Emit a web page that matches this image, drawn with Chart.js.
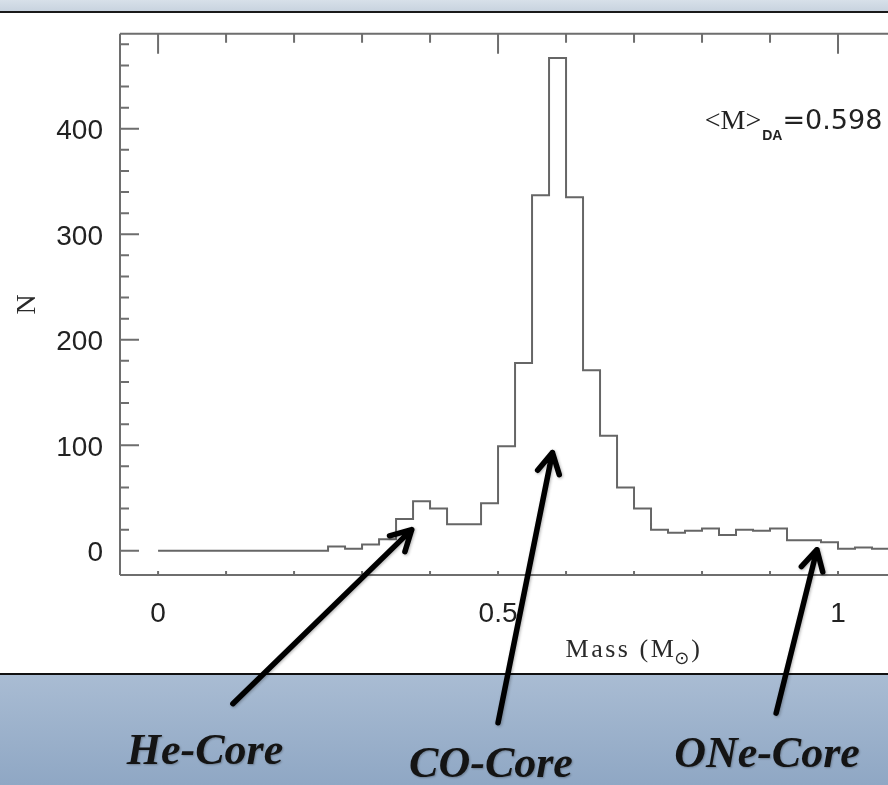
<!DOCTYPE html>
<html>
<head>
<meta charset="utf-8">
<script src="https://cdn.jsdelivr.net/npm/chart.js@4.4.1/dist/chart.umd.min.js"></script>
<style>
    html, body { margin: 0; padding: 0; }
    body { width: 888px; height: 785px; overflow: hidden; position: relative; background: #fff; }
    #bandaSup { position: absolute; left: 0; top: 0; width: 888px; height: 11px; background: linear-gradient(#d7e0e9, #c8d3df); border-bottom: 2px solid #1a1a1a; }
    #bandaInf { position: absolute; left: 0; top: 673px; width: 888px; height: 110px; background: linear-gradient(#a9bcd3, #8fa7c4); border-top: 2px solid #111; }
    #contenedor { position: absolute; left: 0; top: 0; width: 1010px; height: 785px; z-index: 1; }
    .etiquetaNucleo { position: absolute; width: 300px; text-align: center; font: italic bold 44px "Liberation Serif", serif; line-height: 44px; color: #141414; z-index: 2; text-shadow: 1px 1px 2px rgba(0,0,0,0.25); }
</style>
</head>
<body>
<div id="bandaSup"></div>
<div id="bandaInf"></div>
<div id="contenedor"><canvas id="chartMasas" width="1010" height="785" style="width:1010px;height:785px"></canvas></div>
<div class="etiquetaNucleo" style="left:55px; top:728px;">He-Core</div>
<div class="etiquetaNucleo" style="left:341px; top:741px;">CO-Core</div>
<div class="etiquetaNucleo" style="left:617px; top:731px;">ONe-Core</div>
<script>
// histograma de masas (borde izquierdo de cada bin, ancho 0.025)
const massLo = [0.000, 0.025, 0.050, 0.075, 0.100, 0.125, 0.150, 0.175, 0.200, 0.225,
                0.250, 0.275, 0.300, 0.325, 0.350, 0.375, 0.400, 0.425, 0.450, 0.475,
                0.500, 0.525, 0.550, 0.575, 0.600, 0.625, 0.650, 0.675, 0.700, 0.725,
                0.750, 0.775, 0.800, 0.825, 0.850, 0.875, 0.900, 0.925, 0.950, 0.975,
                1.000, 1.025, 1.050, 1.075, 1.100, 1.125, 1.150, 1.175];
const counts = [0, 0, 0, 0, 0, 0, 0, 0, 0, 0,
                4, 2, 6, 11, 30, 47, 40, 25, 25, 45,
                99, 178, 337, 467, 335, 171, 109, 60, 40, 20,
                17, 19, 21, 15, 20, 19, 21, 10, 10, 8,
                2, 3, 2, 2, 1, 1, 1, 1];

const yMajor = [0, 100, 200, 300, 400];
const yMinor = [20, 40, 60, 80, 120, 140, 160, 180, 220, 240, 260, 280, 320, 340, 360, 380, 420, 440, 460, 480];
const xMajor = [0, 0.5, 1];
const xMinor = [0.1, 0.2, 0.3, 0.4, 0.6, 0.7, 0.8, 0.9, 1.1, 1.2];

// flechas: punta y cola en unidades de datos (masa, N)
const flechaPuntas = [[0.373, 20], [0.580, 93], [0.969, 1]];
const flechaColas = [[0.110, -145], [0.500, -163], [0.909, -154]];

const textoMedia = ['<M>', 'DA', '=0.598'];
const posMedia = [0.804, 400];

const anchoBin = massLo[1] - massLo[0];
const puntos = massLo.map((m, i) => ({ x: m, y: counts[i] }));
puntos.push({ x: massLo[massLo.length - 1] + anchoBin, y: counts[counts.length - 1] });

function dibujarFlecha(ctx, x0, y0, x1, y1) {
    const ang = Math.atan2(y1 - y0, x1 - x0);
    const largo = 23, abre = 0.5;
    ctx.beginPath();
    ctx.moveTo(x0, y0);
    ctx.lineTo(x1, y1);
    ctx.moveTo(x1 - largo * Math.cos(ang - abre), y1 - largo * Math.sin(ang - abre));
    ctx.lineTo(x1, y1);
    ctx.lineTo(x1 - largo * Math.cos(ang + abre), y1 - largo * Math.sin(ang + abre));
    ctx.stroke();
}

const ejesPlugin = {
    id: 'ejes',
    afterDatasetsDraw(chart) {
        const ctx = chart.ctx;
        const { left, right, top, bottom } = chart.chartArea;
        const xs = chart.scales.x, ys = chart.scales.y;

        ctx.save();
        ctx.strokeStyle = '#6e6e6e';
        ctx.lineWidth = 2;
        ctx.beginPath();
        ctx.moveTo(left, top); ctx.lineTo(left, bottom);
        ctx.moveTo(left, top); ctx.lineTo(right, top);
        ctx.moveTo(left, bottom); ctx.lineTo(right, bottom);

        yMajor.forEach(v => { const p = ys.getPixelForValue(v); ctx.moveTo(left, p); ctx.lineTo(left + 19, p); });
        yMinor.forEach(v => { const p = ys.getPixelForValue(v); ctx.moveTo(left, p); ctx.lineTo(left + 9, p); });
        xMajor.forEach(v => {
            const p = xs.getPixelForValue(v);
            ctx.moveTo(p, top); ctx.lineTo(p, top + 20);
            ctx.moveTo(p, bottom); ctx.lineTo(p, bottom - 4);
        });
        xMinor.forEach(v => {
            const p = xs.getPixelForValue(v);
            ctx.moveTo(p, top); ctx.lineTo(p, top + 9);
            ctx.moveTo(p, bottom); ctx.lineTo(p, bottom - 4);
        });
        ctx.stroke();

        // <M>_DA = 0.598
        ctx.fillStyle = '#222';
        ctx.textAlign = 'left';
        ctx.textBaseline = 'alphabetic';
        let px = xs.getPixelForValue(posMedia[0]);
        const py = ys.getPixelForValue(posMedia[1]);
        ctx.font = '28px "Liberation Serif"';
        ctx.fillText(textoMedia[0], px, py);
        px += ctx.measureText(textoMedia[0]).width + 1;
        ctx.font = 'bold 14px "Liberation Sans Narrow", "Liberation Sans"';
        ctx.fillText(textoMedia[1], px, py + 11);
        px += ctx.measureText(textoMedia[1]).width;
        ctx.font = '27px "DejaVu Sans"';
        ctx.fillText(textoMedia[2], px, py);

        // titulo eje x con subindice solar
        const base = bottom + 82;
        ctx.letterSpacing = '2.5px';
        ctx.font = '26px "Liberation Serif"';
        const t1 = 'Mass (M', t3 = ')';
        const w1 = ctx.measureText(t1).width, w3 = ctx.measureText(t3).width;
        ctx.letterSpacing = '0px';
        ctx.font = '18px "DejaVu Sans"';
        const w2 = ctx.measureText('\u2299').width;
        let tx = xs.getPixelForValue(0.70) - (w1 + w2 + w3) / 2;
        ctx.fillStyle = '#2a2a2a';
        ctx.letterSpacing = '2.5px';
        ctx.font = '26px "Liberation Serif"';
        ctx.fillText(t1, tx, base);
        ctx.letterSpacing = '0px';
        ctx.font = '18px "DejaVu Sans"';
        ctx.fillText('\u2299', tx + w1 - 2, base + 7);
        ctx.font = '26px "Liberation Serif"';
        ctx.fillText(t3, tx + w1 + w2, base);

        // flechas
        ctx.strokeStyle = '#000';
        ctx.lineWidth = 5.5;
        ctx.lineCap = 'round';
        ctx.lineJoin = 'round';
        ctx.shadowColor = 'rgba(0,0,0,0.3)';
        ctx.shadowBlur = 3;
        ctx.shadowOffsetX = 1;
        ctx.shadowOffsetY = 1;
        flechaPuntas.forEach((punta, i) => {
            const cola = flechaColas[i];
            dibujarFlecha(ctx,
                xs.getPixelForValue(cola[0]), ys.getPixelForValue(cola[1]),
                xs.getPixelForValue(punta[0]), ys.getPixelForValue(punta[1]));
        });
        ctx.restore();
    }
};

new Chart(document.getElementById('chartMasas'), {
    type: 'line',
    data: {
        datasets: [{
            data: puntos,
            stepped: 'before',
            borderColor: '#666',
            borderWidth: 2,
            pointRadius: 0,
            fill: false
        }]
    },
    options: {
        responsive: false,
        animation: false,
        devicePixelRatio: 1,
        layout: { padding: { left: 0, top: 31, right: 2, bottom: 0 } },
        plugins: { legend: { display: false }, tooltip: { enabled: false } },
        scales: {
            x: {
                type: 'linear',
                min: -0.056,
                max: 1.25,
                afterFit: s => { s.height = 210; },
                afterBuildTicks: s => { s.ticks = xMajor.map(v => ({ value: v })); },
                grid: { display: false, drawTicks: false },
                border: { display: false },
                ticks: {
                    font: { family: 'Liberation Sans', size: 28 },
                    color: '#222',
                    padding: 22,
                    maxRotation: 0,
                    autoSkip: false,
                    callback: v => String(v)
                }
            },
            y: {
                min: -23,
                max: 490,
                afterFit: s => { s.width = 120; },
                afterBuildTicks: s => { s.ticks = yMajor.map(v => ({ value: v })); },
                grid: { display: false, drawTicks: false },
                border: { display: false },
                ticks: {
                    font: { family: 'Liberation Sans', size: 28 },
                    color: '#222',
                    padding: 17,
                    labelOffset: 3,
                    callback: v => String(v)
                },
                title: {
                    display: true,
                    text: 'N',
                    font: { family: 'Liberation Serif', size: 28 },
                    color: '#2a2a2a',
                    padding: { top: 11, bottom: 0 }
                }
            }
        }
    },
    plugins: [ejesPlugin]
});
</script>
</body>
</html>
